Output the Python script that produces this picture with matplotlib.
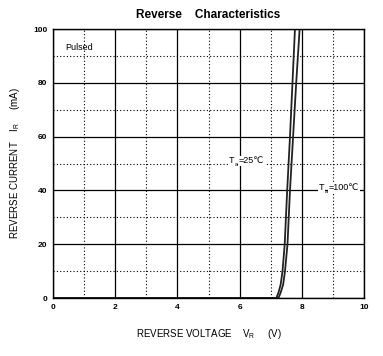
import matplotlib
matplotlib.use("Agg")
import matplotlib.pyplot as plt
from matplotlib.ticker import MultipleLocator

plt.rcParams['font.family'] = ['Liberation Sans', 'DejaVu Sans']

v_25 = [0, 7.0, 7.18, 7.25, 7.32, 7.38, 7.45, 7.53, 7.62, 7.70, 7.78, 7.80]
i_25 = [0, 0, 0, 2, 5, 10, 20, 40, 60, 80, 100, 105]
v_100 = [0, 7.05, 7.25, 7.32, 7.40, 7.46, 7.54, 7.62, 7.72, 7.82, 7.93, 7.95]
i_100 = [0, 0, 0, 2, 5, 10, 20, 40, 60, 80, 100, 105]

x_ticks = [0, 2, 4, 6, 8, 10]
y_ticks = [0, 20, 40, 60, 80, 100]

fig = plt.figure(figsize=(3.83, 3.56), dpi=100)
ax = fig.add_axes([0.1384, 0.1629, 0.812, 0.7556])

ax.plot(v_25, i_25, color='#222222', lw=1.3, solid_capstyle='butt')
ax.plot(v_100, i_100, color='#222222', lw=1.3, solid_capstyle='butt')

ax.set_xlim(0, 10)
ax.set_ylim(0, 100)
ax.set_xticks(x_ticks)
ax.set_yticks(y_ticks)
ax.xaxis.set_minor_locator(MultipleLocator(1))
ax.yaxis.set_minor_locator(MultipleLocator(10))
ax.grid(which='major', color='black', lw=0.9, ls='-')
ax.grid(which='minor', color='black', lw=0.8, ls=(0, (1, 2)))
ax.tick_params(which='both', length=0, labelsize=6, pad=4)
for lab in ax.get_xticklabels() + ax.get_yticklabels():
    lab.set_fontweight('bold')
for s in ax.spines.values():
    s.set_linewidth(1.0)
ax.set_axisbelow(True)

ax.set_title('Reverse    Characteristics', fontsize=8.5, fontweight='bold', pad=8)
ax.set_xlabel(r'REVERSE VOLTAGE    V$_\mathregular{R}$     (V)', fontsize=7, labelpad=12)
ax.set_ylabel(r'REVERSE CURRENT    I$_\mathregular{R}$     (mA)', fontsize=7, labelpad=8)

ax.text(0.4, 93, 'Pulsed', fontsize=6.5, va='center', ha='left')


def temp_label(x, y, rest):
    bb = dict(facecolor='white', edgecolor='none', pad=0.6)
    ax.text(x, y, 'T', fontsize=6.5, va='center', ha='left', bbox=bb)
    ax.annotate('a', (x, y), xytext=(4, -3), textcoords='offset points',
                fontsize=4, va='center', ha='left')
    ax.annotate(rest, (x, y), xytext=(7, 0), textcoords='offset points',
                fontsize=6.5, va='center', ha='left', bbox=bb,
                family=['Liberation Sans', 'DejaVu Sans'])


temp_label(5.65, 51, '=25℃')
temp_label(8.55, 41, '=100℃')

fig.savefig('out.png', dpi=100)
